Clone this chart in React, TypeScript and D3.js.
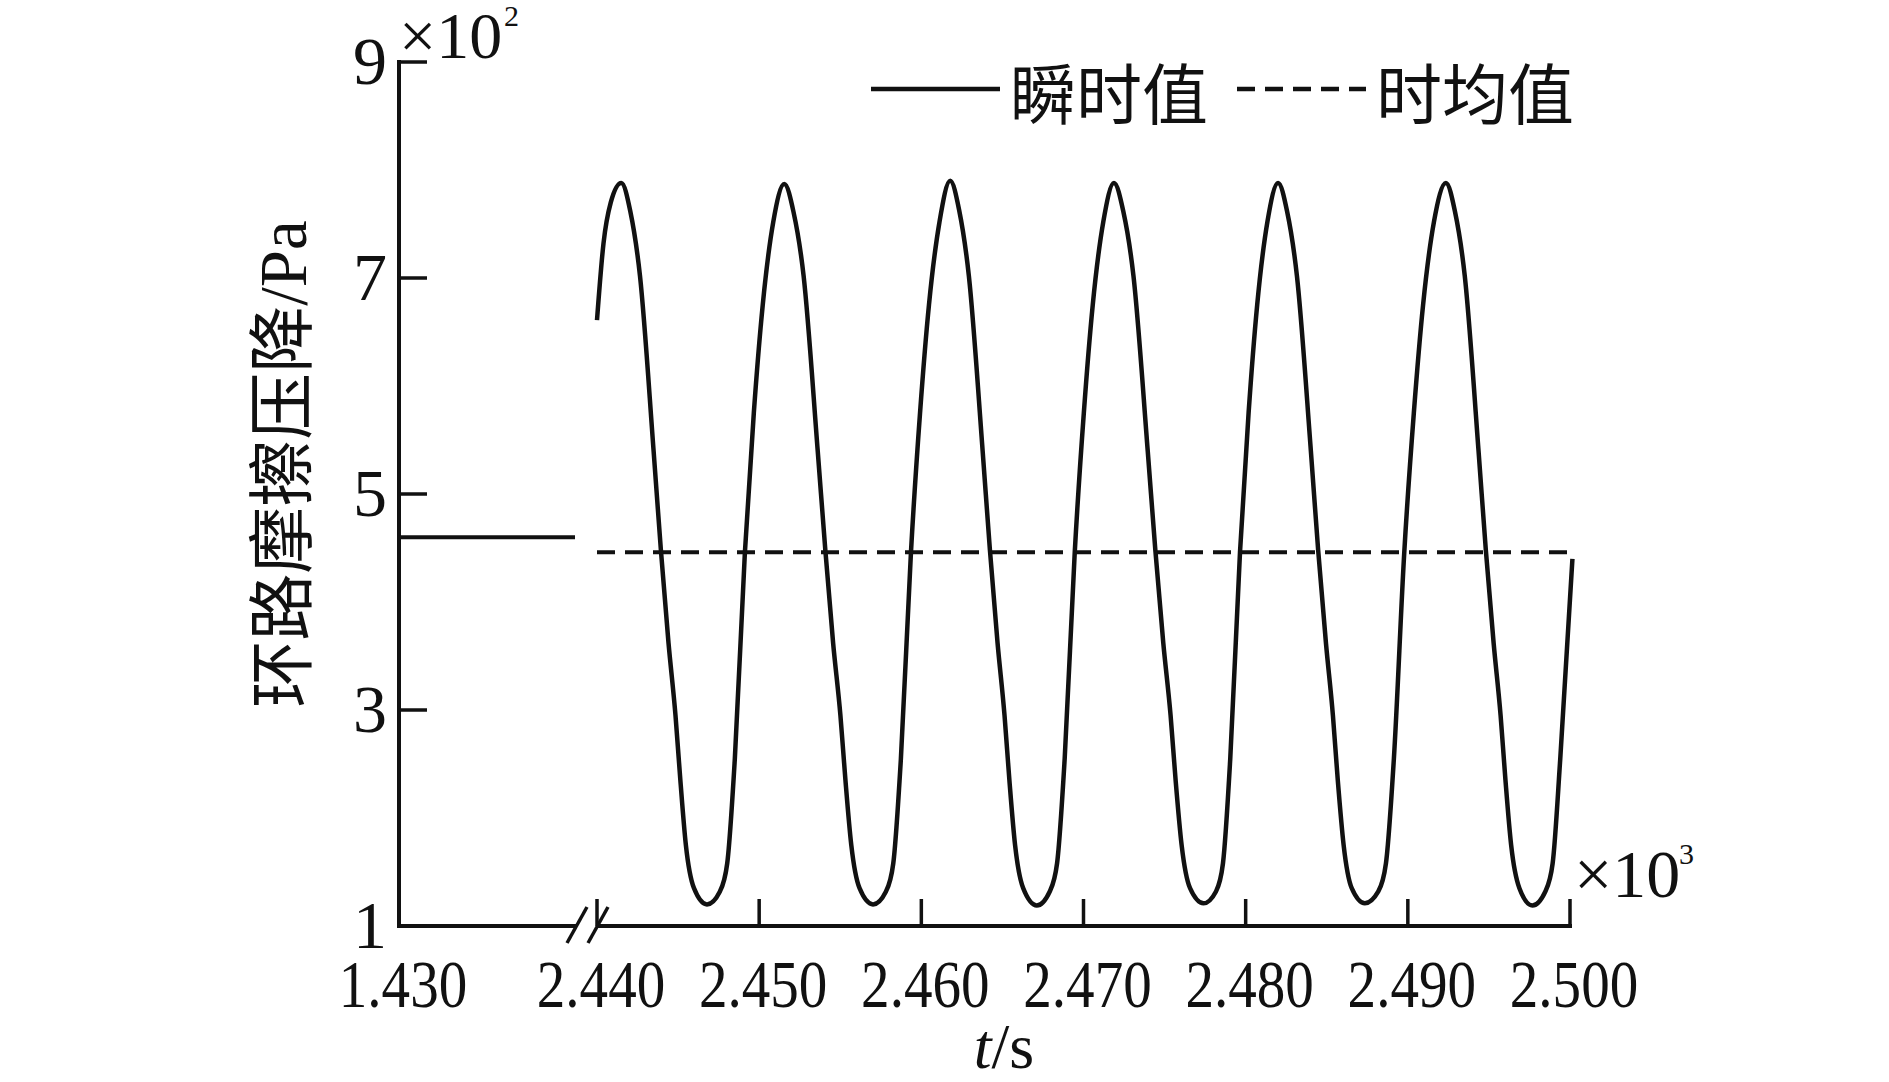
import React, { useEffect, useRef } from 'react';
import * as d3 from 'd3';

const W = 1889;
const H = 1082;

// instantaneous loop friction pressure drop (x10^2 Pa) against time (s)
const instTime = [
  2440.0, 2440.4, 2440.85, 2441.5, 2442.05, 2442.65, 2443.49, 2443.94, 2444.41, 2444.84, 2445.14, 2445.48, 2445.98, 2446.78,
  2447.58, 2448.03, 2448.5, 2449.12, 2449.67, 2450.22, 2450.87, 2451.55,
  2452.12, 2452.74, 2453.61, 2454.08, 2454.56, 2455.01, 2455.32, 2455.68, 2456.19, 2457.02,
  2457.82, 2458.27, 2458.74, 2459.36, 2459.92, 2460.47, 2461.12, 2461.78,
  2462.33, 2462.93, 2463.78, 2464.23, 2464.7, 2465.13, 2465.43, 2465.78, 2466.28, 2467.12,
  2467.92, 2468.37, 2468.84, 2469.46, 2470.02, 2470.57, 2471.22, 2471.88,
  2472.45, 2473.08, 2473.96, 2474.43, 2474.92, 2475.37, 2475.68, 2476.05, 2476.57, 2477.4,
  2478.17, 2478.6, 2479.05, 2479.65, 2480.18, 2480.71, 2481.34, 2482.0,
  2482.55, 2483.16, 2484.02, 2484.47, 2484.95, 2485.38, 2485.68, 2486.04, 2486.54, 2487.35,
  2488.18, 2488.65, 2489.14, 2489.78, 2490.37, 2490.94, 2491.61, 2492.35,
  2492.9, 2493.51, 2494.36, 2494.81, 2495.29, 2495.72, 2496.02, 2496.37, 2496.88, 2497.68,
  2498.48, 2498.93, 2499.4, 2500.15,
];
const instValue = [
  6.61, 7.32, 7.7, 7.88, 7.62, 7.02, 5.4, 4.48, 3.62, 2.95, 2.35, 1.75, 1.35, 1.2,
  1.32, 1.58, 2.55, 4.46, 5.75, 6.75, 7.52, 7.87,
  7.61, 7.02, 5.4, 4.48, 3.62, 2.95, 2.35, 1.75, 1.35, 1.2,
  1.32, 1.58, 2.55, 4.46, 5.75, 6.75, 7.52, 7.9,
  7.63, 7.02, 5.4, 4.48, 3.62, 2.95, 2.35, 1.75, 1.35, 1.19,
  1.32, 1.58, 2.55, 4.46, 5.75, 6.75, 7.52, 7.88,
  7.62, 7.02, 5.4, 4.48, 3.62, 2.95, 2.35, 1.75, 1.35, 1.21,
  1.32, 1.58, 2.55, 4.46, 5.75, 6.75, 7.52, 7.88,
  7.62, 7.02, 5.4, 4.48, 3.62, 2.95, 2.35, 1.75, 1.35, 1.21,
  1.32, 1.58, 2.55, 4.46, 5.75, 6.75, 7.52, 7.88,
  7.62, 7.02, 5.4, 4.48, 3.62, 2.95, 2.35, 1.75, 1.35, 1.19,
  1.32, 1.58, 2.55, 4.4,
];

// segment before the axis break
const preTime = [1430, 1440.86];
const preValue = [4.6, 4.6];

// time-averaged value
const meanTime = [2440, 2500.25];
const meanValue = [4.46, 4.46];

const yTicks = [1, 3, 5, 7, 9];
const xTicksLeft = [1430];
const xTicksRight = [2440, 2450, 2460, 2470, 2480, 2490, 2500];
const legendLabels = ['瞬时值', '时均值'];
const yTitle = '环路摩擦压降';
const yUnit = '/Pa';

const App = () => {
  const svgRef = useRef<SVGSVGElement>(null);

  useEffect(() => {
    const svg = d3.select(svgRef.current);
    svg.selectAll('*').remove();

    const x0 = 399;
    const x1 = 1570;
    const yB = 926;
    const yT = 62;
    const ink = '#111';
    const serif = '"Liberation Serif", "Times New Roman", serif';
    const cjk = '"Noto Sans CJK SC", sans-serif';

    const xL = d3.scaleLinear().domain([1430, 1441.6]).range([x0, 587]);
    const xR = d3.scaleLinear().domain([2440, 2500]).range([597, x1]);
    const y = d3.scaleLinear().domain([1, 9]).range([yB, yT]);

    svg.append('rect').attr('width', W).attr('height', H).attr('fill', '#fff');

    // axes
    svg.append('line')
      .attr('x1', x0).attr('x2', x0).attr('y1', yT - 2).attr('y2', yB)
      .attr('stroke', ink).attr('stroke-width', 4);
    svg.append('line')
      .attr('x1', x0 - 2).attr('x2', 577).attr('y1', yB).attr('y2', yB)
      .attr('stroke', ink).attr('stroke-width', 4);
    svg.append('line')
      .attr('x1', xR(2440)).attr('x2', x1 + 2).attr('y1', yB).attr('y2', yB)
      .attr('stroke', ink).attr('stroke-width', 4);

    // break marks
    [577, 598].forEach(c => {
      svg.append('line')
        .attr('x1', c - 10).attr('y1', yB + 17)
        .attr('x2', c + 10).attr('y2', yB - 19)
        .attr('stroke', ink).attr('stroke-width', 3.5);
    });

    // y ticks + labels
    yTicks.forEach(v => {
      svg.append('line')
        .attr('x1', x0).attr('x2', x0 + 28).attr('y1', y(v)).attr('y2', y(v))
        .attr('stroke', ink).attr('stroke-width', 3.5);
      svg.append('text')
        .attr('x', x0 - 12).attr('y', y(v) + 22)
        .attr('text-anchor', 'end')
        .style('font-family', serif).style('font-size', '68px').attr('fill', ink)
        .text(v);
    });

    // x ticks + labels
    xTicksRight.forEach(v => {
      svg.append('line')
        .attr('x1', xR(v)).attr('x2', xR(v)).attr('y1', yB).attr('y2', yB - 27)
        .attr('stroke', ink).attr('stroke-width', 3.5);
    });
    const xLabels = [
      ...xTicksLeft.map(v => ({ v, px: xL(v) })),
      ...xTicksRight.map(v => ({ v, px: xR(v) })),
    ];
    xLabels.forEach(d => {
      svg.append('text')
        .attr('transform', `translate(${d.px + 4},1007) scale(0.84,1)`)
        .attr('text-anchor', 'middle')
        .style('font-family', serif).style('font-size', '68px').attr('fill', ink)
        .text((d.v / 1000).toFixed(3));
    });

    // multipliers
    svg.append('text')
      .attr('x', 399).attr('y', 58)
      .style('font-family', serif).style('font-size', '66px').attr('fill', ink)
      .text('×10');
    svg.append('text')
      .attr('x', 504).attr('y', 26)
      .style('font-family', serif).style('font-size', '30px').attr('fill', ink)
      .text('2');

    svg.append('text')
      .attr('x', 1574).attr('y', 897)
      .style('font-family', serif).style('font-size', '68px').attr('fill', ink)
      .text('×10');
    svg.append('text')
      .attr('x', 1679).attr('y', 864)
      .style('font-family', serif).style('font-size', '30px').attr('fill', ink)
      .text('3');

    // axis titles
    const xt = svg.append('text')
      .attr('x', 1004).attr('y', 1068)
      .attr('text-anchor', 'middle')
      .style('font-family', serif).style('font-size', '64px').attr('fill', ink);
    xt.append('tspan').style('font-style', 'italic').text('t');
    xt.append('tspan').text('/s');

    const yt = svg.append('text')
      .attr('transform', 'translate(306,464) rotate(-90)')
      .attr('text-anchor', 'middle')
      .style('font-size', '67px').attr('fill', ink);
    yt.append('tspan').style('font-family', cjk).text(yTitle);
    yt.append('tspan').style('font-family', serif).text(yUnit);

    // data lines
    const lineL = d3.line<[number, number]>().x(d => xL(d[0])).y(d => y(d[1]));
    const lineR = d3.line<[number, number]>().x(d => xR(d[0])).y(d => y(d[1]));

    svg.append('path')
      .datum(d3.zip(preTime, preValue) as [number, number][])
      .attr('fill', 'none').attr('stroke', ink).attr('stroke-width', 4)
      .attr('d', lineL);

    svg.append('path')
      .datum(d3.zip(meanTime, meanValue) as [number, number][])
      .attr('fill', 'none').attr('stroke', ink).attr('stroke-width', 4)
      .attr('stroke-dasharray', '18 10')
      .attr('d', lineR);

    svg.append('path')
      .datum(d3.zip(instTime, instValue) as [number, number][])
      .attr('fill', 'none').attr('stroke', ink).attr('stroke-width', 4.5)
      .attr('stroke-linejoin', 'round')
      .attr('d', lineR.curve(d3.curveMonotoneX));

    // legend
    const legend = [
      { label: legendLabels[0], x: 871, dash: null },
      { label: legendLabels[1], x: 1237, dash: '18 10' },
    ];
    legend.forEach(l => {
      const ln = svg.append('line')
        .attr('x1', l.x).attr('x2', l.x + 129).attr('y1', 89).attr('y2', 89)
        .attr('stroke', ink).attr('stroke-width', 4.5);
      if (l.dash) ln.attr('stroke-dasharray', l.dash);
      svg.append('text')
        .attr('x', l.x + 139).attr('y', 90)
        .attr('dominant-baseline', 'central')
        .style('font-family', cjk).style('font-size', '66px').attr('fill', ink)
        .text(l.label);
    });
  }, []);

  return (
    <svg
      ref={svgRef}
      width={W}
      height={H}
      style={{ position: 'absolute', left: 0, top: 0, display: 'block' }}
    />
  );
};

export default App;
